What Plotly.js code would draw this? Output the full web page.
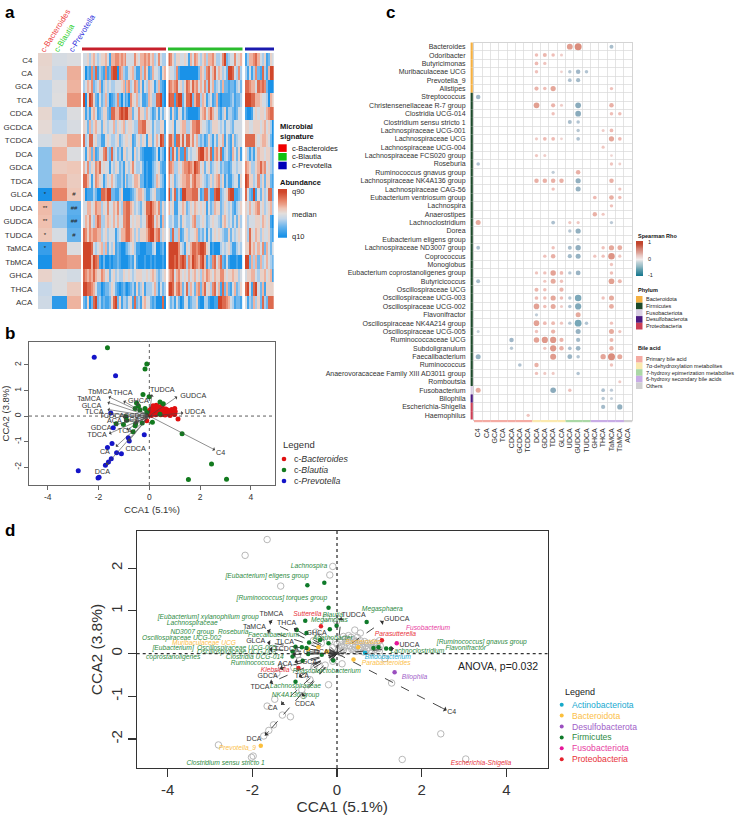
<!DOCTYPE html>
<html><head><meta charset="utf-8">
<script src="https://cdn.plot.ly/plotly-3.0.1.min.js"></script>
<style>html,body{margin:0;padding:0;background:#fff}#chart{width:738px;height:815px}</style>
</head><body><div id="chart"></div>
<script>
const FONT='"Liberation Sans", Arial, sans-serif';
// ---------- Panel a data ----------
const bileRows=['C4','CA','GCA','TCA','CDCA','GCDCA','TCDCA','DCA','GDCA','TDCA','GLCA','UDCA','GUDCA','TUDCA','TaMCA','TbMCA','GHCA','THCA','ACA'];
const signatureCols=['c-Bacteroides','c-Blautia','c-Prevotella'];
const signatureMean=[[.09,-.1,-.05],[.07,-.18,.36],[-.25,-.05,.33],[-.25,-.03,.5],[.07,-.3,-.05],[.04,-.25,-.08],[-.1,.08,.38],[-.45,.33,-.05],[-.45,.16,.2],[-.45,.33,.16],[-1,.6,.2],[.28,-.35,-.65],[.25,-.4,-.7],[.2,-.1,-.6],[-.85,.55,-.05],[-1,.55,.45],[.1,-.05,-.12],[-.2,-.05,.16],[-.15,-.9,.33]];
const signatureMarks=[['','',''],['','',''],['','',''],['','',''],['','',''],['','',''],['','',''],['','',''],['','',''],['','',''],['*','','#'],['**','','##'],['**','','##'],['*','','#'],['*','',''],['','',''],['','',''],['','',''],['','','']];
const bacteroidesSamples=["445356 434556 416677 676744 447546 676756 347433","402172 813217 128990 763224 563116 375126 443156","346572 346135 343344 456267 347625 143654 136210","905985 214236 301237 203120 754634 112653 388910","513156 412355 218866 898996 624475 536431 241424","542635 644254 344635 456345 543377 885542 433551","834884 533114 543345 234554 512453 541552 464982","415626 124478 328342 315534 415342 100001 240320","647354 768454 414354 231543 574334 201002 345211","886414 765413 546432 231523 346652 201002 365320","501113 200887 992211 350000 123566 531134 522110","446645 766354 744657 437788 653432 458897 657253","465743 687335 654646 447788 454553 447998 465163","875767 766345 344413 466788 653535 556899 678354","999984 345636 243512 100123 453110 001113 400120","999969 871020 010112 100001 214100 010010 100010","876768 655764 524534 335445 434555 445456 532345","998876 422012 235421 012101 231523 513334 631423","215028 923121 125892 513324 518231 564421 200080"];
const blautiaSamples=["875355 445416 476435 636675 334792 344745 6","544371 000000 000265 378468 465342 998437 3","876784 535875 867464 738462 342622 122134 2","988189 924889 268836 513412 610111 123122 3","415215 413100 000156 746864 521351 332124 4","445144 566335 778854 432355 543424 432444 4","886188 584885 746323 125314 254614 215234 4","928516 118243 445899 675816 758134 216425 1","876335 467787 698745 245234 542322 124434 4","745234 566775 786654 323535 673513 113441 5","925813 199777 888412 883118 992345 899112 3","645114 465235 465454 514236 552354 342134 5","334224 254334 673345 423454 432564 342425 3","528336 124534 456232 414245 454322 524345 4","999997 431546 887899 854010 003434 531134 3","999897 898376 987689 613278 468214 100010 0","678467 545464 564536 576546 557754 556553 4","998578 624836 426726 845378 461826 214623 5","423142 014412 335100 331001 199887 643122 1"];
const prevotellaSamples=["136678 643512 54","314137 218316 99","887664 878720 00","999886 654430 65","100145 455467 88","554455 545645 30","888885 456654 20","531314 655455 32","765335 686745 32","985534 735255 21","842191 425348 82","546456 745345 63","534445 546545 10","538546 535445 21","558564 647264 24","992636 263464 32","455664 355645 61","894189 426155 55","413263 528328 88"];
// ---------- Panel b / d ordination ----------
const bacteroidesX=[.02,.05,.08,.1,.12,.15,.18,.2,.22,.25,.27,.3,.3,.33,.35,.38,.4,.42,.45,.45,.48,.5,.52,.55,.55,.58,.6,.62,.65,.68,.7,.72,.75,.78,.8,.82,.85,.88,.9,.92,.95,.98,1,1.02,1,0,.15,.06,1.13,-.1];
const bacteroidesY=[.05,.12,.02,.2,.3,.08,.15,.35,.25,.05,.42,.18,.3,.38,.1,.22,.32,.15,.05,.28,.38,.2,.08,.12,.3,.22,.15,.04,.28,.18,.1,.24,.14,.08,.2,.02,.14,.26,.1,.18,.24,.12,.3,.18,.06,.22,.4,.28,-.12,-.18];
const blautiaX=[-1.65,-.1,-.17,-.25,-.01,.42,.55,-.5,-.43,-.56,-.37,-.17,-.1,-.93,-1.31,-1.02,-.89,-.54,-.56,-.64,-.28,.12,.42,1.29,2.45,1.54,3.04];
const blautiaY=[2.67,2.04,1.84,.84,.76,.55,.48,.5,.39,.3,.24,.3,.14,-.03,-.3,-.33,-.16,-.3,-.38,-.61,-.27,-.24,.07,-.69,-1.88,-2.48,-2.47];
const prevotellaX=[-2.17,-1.33,-1.52,-1.42,-.2,-.83,-.79,-1.47,-1.65,-1.29,-1.1,-1.5,-1.61,-1.73,-2.8,-1.98,-2.02];
const prevotellaY=[2.3,1.58,.12,-.46,-.73,-.85,-.98,-1.07,-1.23,-1.44,-1.48,-1.67,-1.8,-1.93,-2.14,-2.4,-2.43];
const arrowNames=['C4','CA','GCA','TCA','CDCA','GCDCA','TCDCA','DCA','GDCA','TDCA','TLCA','GLCA','UDCA','GUDCA','TUDCA','TaMCA','TbMCA','GHCA','THCA','ACA'];
const arrowX=[2.59,-1.32,-.6,-.9,-.83,-.55,-1.05,-1.7,-1.35,-1.59,-1.6,-1.65,1.34,1.1,.1,-1.65,-1.61,-.5,-1.02,-1];
const arrowY=[-1.33,-1.2,-.3,-.55,-1,-.25,-.02,-1.92,-.35,-.69,.1,.26,.12,.76,.85,.54,.76,.5,.59,-.2];
const labelBX=[2.81,-1.75,-.7,-.96,-.54,-.5,-1.48,-1.85,-1.9,-2.06,-2.17,-2.28,1.8,1.73,.51,-2.38,-1.94,-.43,-1.05,-1.38];
const labelBY=[-1.46,-1.4,-.18,-.61,-1.29,.01,.01,-2.21,-.47,-.76,.14,.37,.16,.78,1.02,.67,.95,.59,.89,-.2];
const labelDX=[2.71,-1.52,-.65,-.83,-.76,-.5,-1.19,-1.96,-1.64,-1.82,-1.23,-1.92,1.71,1.41,.39,-1.95,-1.55,-.48,-1.19,-1.23];
const labelDY=[-1.38,-1.27,-.2,-.52,-1.19,.02,.09,-2,-.52,-.8,.27,.3,.2,.81,.89,.61,.92,.48,.7,-.24];
const firmicutesPtsX=[-.7,-.3,-.2,-.75,-.01,-.17,-.95,-.72,-.4,-.2,-.66,-.98,-1.05,-1.05,-.68,-.36,-.81,-.09,-.72,-.83,-.98,.7,.86,.98,1.16,1.27];
const firmicutesPtsY=[1.6,1.66,1.07,.77,.65,.57,.55,.48,.32,.24,.26,.16,.05,-.07,-.01,-.03,-.17,-.16,.13,.15,-.66,.74,.13,.15,.12,.11];
const bacteroidotaPtsX=[.39,.5,-1.8,-.68,-.24,-.44];
const bacteroidotaPtsY=[-.14,.15,-2.16,.1,.05,.15];
const proteoPtsX=[-.38,-.91,1.06];
const proteoPtsY=[.64,-.34,.31];
const fusoPtsX=[1.41],fusoPtsY=[.24],desulfoPtsX=[1.36],desulfoPtsY=[-.44],actinoPtsX=[.66],actinoPtsY=[.02];
const firmicutesNames=['Lachnospira','[Eubacterium] eligens group','[Ruminococcus] torques group','[Eubacterium] xylanophilum group','Lachnospiraceae<br>ND3007 group','Blautia','Megamonas','Roseburia','Faecalibacterium','Oscillospiraceae UCG-002','[Eubacterium]<br>coprostanoligenes','Oscillospiraceae UCG-005','Oscillospiraceae UCG-003','Clostridia UCG-014','Ruminococcus','Phascolarctobacterium','Agathobacter','Lachnospiraceae<br>NK4A136 group','Clostridium sensu stricto 1','Megasphaera','[Ruminococcus] gnavus group','Flavonifractor','Lachnoclostridium'];
const firmicutesNameX=[-.66,-1.65,-1.3,-3.04,-3.42,-.1,-.18,-2.45,-1.5,-3.67,-3.87,-2.37,-2.37,-1.94,-1.99,-.24,-.1,-.98,-2.63,1.07,3.42,3.04,1.9];
const firmicutesNameY=[2.05,1.8,1.29,.84,.6,.9,.77,.49,.42,.35,.01,.13,.03,-.09,-.22,-.41,.36,-.87,-2.56,1.04,.27,.13,.06];
const otherNames=['Sutterella','Klebsiella','Parasutterella','Escherichia-Shigella','Muribaculaceae UCG','Prevotella_9','Bacteroides','Parabacteroides','Fusobacterium','Bifidobacterium','Bilophila'];
const otherNameX=[-.7,-1.46,1.38,3.4,-3.14,-2.35,.62,1.16,2.15,1.2,1.83];
const otherNameY=[.91,-.39,.45,-2.58,.23,-2.22,.26,-.23,.58,-.09,-.55];
const otherNamePhylum=['Proteobacteria','Proteobacteria','Proteobacteria','Proteobacteria','Bacteroidota','Bacteroidota','Bacteroidota','Bacteroidota','Fusobacteriota','Actinobacteriota','Desulfobacterota'];
const phylumNames=['Actinobacteriota','Bacteroidota','Desulfobacterota','Firmicutes','Fusobacteriota','Proteobacteria'];
const phylumColors=['#17A9C9','#FBBF3C','#9A4FBF','#0F7A2A','#E6169A','#E5222C'];
const phylumTextColors=['#18A9D0','#FBC04A','#A060C8','#2E8B3F','#E8409F','#E8323A'];
// ---------- Panel c data ----------
const taxa=['Bacteroides','Odoribacter','Butyricimonas','Muribaculaceae UCG','Prevotella_9','Alistipes','Streptococcus','Christensenellaceae R-7 group','Clostridia UCG-014','Clostridium sensu stricto 1','Lachnospiraceae UCG-001','Lachnospiraceae UCG','Lachnospiraceae UCG-004','Lachnospiraceae FCS020 group','Roseburia','Ruminococcus gnavus group','Lachnospiraceae NK4A136 group','Lachnospiraceae CAG-56','Eubacterium ventriosum group','Lachnospira','Anaerostipes','Lachnoclostridium','Dorea','Eubacterium eligens group','Lachnospiraceae ND3007 group','Coprococcus','Monoglobus','Eubacterium coprostanoligenes group','Butyricicoccus','Oscillospiraceae UCG','Oscillospiraceae UCG-003','Oscillospiraceae UCG-002','Flavonifractor','Oscillospiraceae NK4A214 group','Oscillospiraceae UCG-005','Ruminococcaceae UCG','Subdoligranulum','Faecalibacterium','Ruminococcus','Anaerovoracaceae Family XIII AD3011 group','Romboutsia','Fusobacterium','Bilophila','Escherichia-Shigella','Haemophilus'];
const acidCols=['C4','CA','GCA','TCA','CDCA','GCDCA','TCDCA','DCA','GDCA','TDCA','GLCA','UDCA','GUDCA','TUDCA','GHCA','THCA','TaMCA','TbMCA','ACA'];
const rho=[
[[11,.38],[12,.5],[16,-.2]],
[[7,.15],[8,.2],[9,.15],[10,.1]],
[[7,.17],[8,.13]],
[[7,.14],[10,.08],[11,-.14],[12,-.25],[13,-.15]],
[[11,-.17],[12,-.22]],
[[7,.22],[8,.15],[9,.32],[16,.14]],
[[0,-.25]],
[[7,.37],[9,.22],[10,.1],[12,-.37],[16,.25]],
[[9,.14],[12,-.37],[16,.15],[17,.15]],
[[11,-.2],[12,-.15]],
[[12,-.14],[15,.1],[16,.17]],
[[7,.11],[8,.17],[9,.17],[10,.08],[12,-.17],[16,.32],[17,.17]],
[[15,.12]],
[[7,.12],[8,.1],[16,.07]],
[[0,-.16],[16,.13],[17,.09]],
[[9,-.12],[12,.25]],
[[7,.25],[8,.25],[9,.25],[10,.25],[12,-.32],[16,.25]],
[[9,.14],[12,-.3],[17,.13]],
[[14,.17],[16,.27],[17,.15]],
[[16,.14]],
[[14,.24],[15,.12]],
[[0,.3],[9,-.18],[11,.12],[12,.12],[16,-.13]],
[[11,-.14],[12,-.32]],
[[12,-.08]],
[[0,-.18],[9,.14],[11,-.2],[12,-.33],[15,.14],[16,.32],[17,.28]],
[[8,.14],[9,.25],[11,-.22],[12,-.3],[14,.13],[15,.14],[16,.45],[17,.12]],
[[16,.13]],
[[7,.13],[8,.14],[9,.35],[10,.17],[11,-.14],[12,-.28],[16,.15]],
[[0,-.2],[8,.12],[9,.3],[10,.14],[16,.37],[17,.2]],
[[7,.2],[8,.15],[10,.22]],
[[7,.17],[8,.15],[9,.32],[10,.16],[11,-.14],[12,-.45],[15,.14],[16,.3]],
[[7,.36],[8,.15],[9,.3],[10,.1],[11,-.15],[12,-.42],[16,.28]],
[[7,-.12],[12,.3]],
[[7,.36],[8,.17],[9,.18],[10,.13],[11,-.14],[12,-.48],[13,-.15],[16,.14]],
[[0,-.1],[7,.14],[9,.23],[12,-.3],[16,.3],[17,.13]],
[[4,-.25],[7,.35],[8,.42],[9,.42],[10,.22],[12,-.22],[16,.2]],
[[4,-.14],[8,.13],[9,.42],[10,.25],[11,-.17],[12,-.27],[16,.24]],
[[0,-.3],[9,.4],[11,-.28],[12,-.15],[15,.33],[16,.5],[17,.3]],
[[5,-.16],[7,.24],[16,.14]],
[[7,.14],[8,.11],[9,.11],[12,-.15]],
[[17,.11]],
[[0,.3],[9,-.36],[11,.14],[15,-.17],[16,-.13]],
[[15,-.14],[16,-.1]],
[[15,-.22],[17,-.32]],
[[6,.13]]];
const phylaStrip=[0,0,0,0,0,0,1,1,1,1,1,1,1,1,1,1,1,1,1,1,1,1,1,1,1,1,1,1,1,1,1,1,1,1,1,1,1,1,1,1,1,2,3,4,4];
const phylaStripColors=['#F5B041','#1C4A2A','#D9CFE3','#4B1A80','#CB3F55'];
const acidStrip=[0,0,0,0,0,0,0,1,1,1,1,2,2,2,3,3,3,3,4];
const acidStripColors=['#F4ABA3','#FBE9AE','#ABD8A6','#C8ACE6','#D0D0D0'];
const phylumLegend=['Bacteroidota','Firmicutes','Fusobacteriota','Desulfobacterota','Proteobacteria'];
const acidLegend=['Primary bile acid','7α-dehydroxylation metabolites','7-hydroxy epimerization metabolites','6-hydroxy secondary bile acids','Others'];
const rampLevels=[9,8,7,6,5,4,3,2,1,0];

// ---------- helpers ----------
const W=738,H=815;
const X=x=>x/W, Y=y=>1-y/H;
const ROWS=bileRows.length;
const scaleAb=[[0,'#1A92E8'],[.2,'#66B3EC'],[.38,'#C2D6EA'],[.5,'#E2DEDC'],[.62,'#F0C2B1'],[.8,'#E8866A'],[1,'#D0462A']];
const scaleRho=[[0,'#1F7C93'],[.2,'#5A879F'],[.37,'#8FA9BE'],[.5,'#E8E0E0'],[.63,'#E8A096'],[.75,'#DC8674'],[1,'#C2452D']];
const layout={width:W,height:H,margin:{l:0,r:0,t:0,b:0},paper_bgcolor:'#fff',plot_bgcolor:'rgba(0,0,0,0)',showlegend:false,hovermode:false,font:{family:FONT,color:'#333'},annotations:[],shapes:[]};
const data=[];
function axes(n,x0,x1,y0,y1,xa,ya){
  const s=n===1?'':n;
  layout['xaxis'+s]=Object.assign({domain:[X(x0),X(x1)],anchor:'y'+s,showgrid:false,zeroline:false,showticklabels:false,ticks:''},xa);
  layout['yaxis'+s]=Object.assign({domain:[Y(y1),Y(y0)],anchor:'x'+s,showgrid:false,zeroline:false,showticklabels:false,ticks:''},ya);
  return {xaxis:'x'+s,yaxis:'y'+s};
}
function note(x,y,text,o){layout.annotations.push(Object.assign({xref:'paper',yref:'paper',x:X(x),y:Y(y),text,showarrow:false,xanchor:'left',yanchor:'middle',font:{size:7.5,color:'#222',family:FONT}},o||{}));}
function rect(x0,y0,x1,y1,c){layout.shapes.push({type:'rect',xref:'paper',yref:'paper',x0:X(x0),x1:X(x1),y0:Y(y0),y1:Y(y1),fillcolor:c,line:{width:0}});}
const digits=s=>s.replace(/ /g,'').split('').map(Number);
const rowRange=[ROWS-.5,-.5];

// ---------- Panel a ----------
const a0=axes(1,38,81,53,309,{range:[-.5,2.5]},{range:rowRange,showticklabels:true,tickvals:bileRows.map((_,i)=>i),ticktext:bileRows,tickfont:{size:8,color:'#333'},ticks:'outside',ticklen:3,tickcolor:'rgba(0,0,0,0)'});
data.push(Object.assign({type:'heatmap',z:signatureMean,text:signatureMarks,texttemplate:'%{text}',textfont:{size:6,color:'#222'},zmin:-1,zmax:1,colorscale:scaleAb,showscale:false},a0));
[[2,83,166,bacteroidesSamples],[3,168.3,242.5,blautiaSamples],[4,245,273.7,prevotellaSamples]].forEach(([n,x0,x1,rows])=>{
  const z=rows.map(digits);
  const ax=axes(n,x0,x1,53,309,{range:[-.5,z[0].length-.5]},{range:rowRange});
  data.push(Object.assign({type:'heatmap',z,zmin:0,zmax:9,colorscale:scaleAb,showscale:false},ax));
});
rect(82,47.5,166,50.5,'#C6202B');rect(168,47.5,242.5,50.5,'#2ABC2E');rect(245,47.5,274,50.5,'#1A1AAE');
note(55,31,'c-Bacteroides',{textangle:-58,xanchor:'center',font:{size:8,color:'#EE3B3B',family:FONT}});
note(65,38,'c-Blautia',{textangle:-58,xanchor:'center',font:{size:8,color:'#2FD02F',family:FONT}});
note(82,33.5,'c-Prevotella',{textangle:-58,xanchor:'center',font:{size:8,color:'#2E2EDC',family:FONT}});
note(278,132,'<b>Microbial<br>signature</b>',{font:{size:7.5,color:'#111',family:FONT},align:'left'});
[['#F00000',144.3,148],['#10C010',153,156.7],['#0000B8',161.7,165.5]].forEach(([c,y,ty],i)=>{rect(278.3,y,286.7,y+7.6,c);note(290,ty,signatureCols[i],{font:{size:7.5,color:'#222',family:FONT}});});
note(278,182.7,'<b>Abundance</b>',{font:{size:7.5,color:'#111',family:FONT}});
const ramp1=axes(10,278,287,189,237.7,{range:[-.5,.5]},{range:[rampLevels.length-.5,-.5]});
data.push(Object.assign({type:'heatmap',z:rampLevels.map(v=>[v]),zmin:0,zmax:9,colorscale:scaleAb,showscale:false,zsmooth:'best'},ramp1));
note(290,191.7,'q90');note(290,214,'median');note(290,236,'q10');

// ---------- Ordination helper ----------
function ordination(n,x0,x1,y0,y1,opts){
  const tickx={tickmode:'array',tickvals:[-4,-2,0,2,4],ticktext:['-4','-2','0','2','4']};
  const ticky={tickmode:'array',tickvals:[-2,-1,0,1,2],ticktext:['-2','-1','0','1','2']};
  const s=n;
  const common={showline:true,mirror:true,linecolor:opts.frame,linewidth:opts.lw,ticks:'outside',ticklen:opts.tl,tickwidth:opts.lw,tickcolor:opts.frame,showticklabels:true,tickfont:{size:opts.tick,color:'#333'}};
  const ax=axes(n,x0,x1,y0,y1,
    Object.assign({range:opts.xr,title:{text:'CCA1 (5.1%)',font:{size:opts.title,color:'#333'},standoff:opts.sox}},common,tickx),
    Object.assign({range:opts.yr,tickangle:-90,title:{text:'CCA2 (3.8%)',font:{size:opts.title,color:'#333'},standoff:opts.soy}},common,ticky));
  layout.shapes.push({type:'line',xref:'x'+s,yref:'y'+s,x0:0,x1:0,y0:opts.yr[0],y1:opts.yr[1],line:{color:'#333',width:opts.zw,dash:'dot'}});
  layout.shapes.push({type:'line',xref:'x'+s,yref:'y'+s,x0:opts.xr[0],x1:opts.xr[1],y0:0,y1:0,line:{color:'#333',width:opts.zw,dash:'dot'}});
  return ax;
}
function arrowHead(s,tx,ty,fx,fy,col,w){layout.annotations.push({xref:'x'+s,yref:'y'+s,axref:'x'+s,ayref:'y'+s,x:tx,y:ty,ax:fx,ay:fy,text:'',showarrow:true,arrowhead:1,arrowsize:1.2,arrowwidth:w,arrowcolor:col});}

// ---------- Panel b ----------
const bAx=ordination(5,29,275,342,485,{xr:[-4.74,4.95],yr:[-2.7,2.9],frame:'#666',lw:1,tl:4,tick:8.5,title:9.5,sox:5,soy:6,zw:.8});
[[bacteroidesX,bacteroidesY,'#E01010'],[blautiaX,blautiaY,'#127A1E'],[prevotellaX,prevotellaY,'#1414C8']].forEach(([x,y,c])=>{
  data.push(Object.assign({type:'scatter',mode:'markers',x,y,marker:{size:5,color:c}},bAx));
});
arrowNames.forEach((_,i)=>arrowHead(5,arrowX[i],arrowY[i],0,0,'#444',.6));
data.push(Object.assign({type:'scatter',mode:'text',x:labelBX,y:labelBY,text:arrowNames,textfont:{size:7.2,color:'#333'}},bAx));
note(281,445,'Legend',{font:{size:9.5,color:'#333',family:FONT}});
[['Bacteroides','#E01010',459],['Blautia','#127A1E',470],['Prevotella','#1414C8',481]].forEach(([t,c,y])=>{
  layout.shapes.push({type:'circle',xref:'paper',yref:'paper',x0:X(281.7),x1:X(286.3),y0:Y(y+2.3),y1:Y(y-2.3),fillcolor:c,line:{width:0}});
  note(292,y,'c-<i>'+t+'</i>',{font:{size:8.8,color:'#333',family:FONT}});
});

// ---------- Panel c ----------
const cAx=axes(6,474,632.3,42.5,419.5,
 {range:[-.5,18.5],showticklabels:true,tickmode:'array',tickvals:acidCols.map((_,i)=>i),ticktext:acidCols,tickangle:-90,tickfont:{size:7,color:'#333'},ticks:'outside',ticklen:5,tickcolor:'rgba(0,0,0,0)',showline:true,mirror:true,linecolor:'#D4D4D4',linewidth:1,minor:{tickmode:'array',tickvals:acidCols.map((_,i)=>i+.5),showgrid:true,gridcolor:'#D8D8D8',gridwidth:.7,ticks:''}},
 {range:[44.5,-.5],showticklabels:true,tickmode:'array',tickvals:taxa.map((_,i)=>i),ticktext:taxa,tickfont:{size:7,color:'#333'},ticks:'outside',ticklen:6,tickcolor:'rgba(0,0,0,0)',showline:true,mirror:true,linecolor:'#D4D4D4',linewidth:1,minor:{tickmode:'array',tickvals:taxa.map((_,i)=>i+.5),showgrid:true,gridcolor:'#D8D8D8',gridwidth:.7,ticks:''}});
const bx=[],by=[],bv=[];
rho.forEach((r,i)=>r.forEach(([c,v])=>{bx.push(c);by.push(i);bv.push(v);}));
data.push(Object.assign({type:'scatter',mode:'markers',x:bx,y:by,marker:{size:bv.map(v=>2+10*Math.abs(v)),color:bv,cmin:-.6,cmax:.6,colorscale:scaleRho,line:{width:0}}},cAx));
// phylum strip (left) and bile-acid strip (bottom)
const rowH=(419.5-42.5)/taxa.length, colW=(632.3-474)/acidCols.length;
phylaStrip.forEach((k,i)=>rect(470.6,42.5+i*rowH,472.8,42.5+(i+1)*rowH,phylaStripColors[k]));
acidStrip.forEach((k,i)=>rect(474+i*colW,420,474+(i+1)*colW,422.2,acidStripColors[k]));
note(636,236,'<b>Spearman Rho</b>',{font:{size:5.5,color:'#111',family:FONT}});
const ramp2=axes(11,636,643,241,276,{range:[-.5,.5]},{range:[rampLevels.length-.5,-.5]});
data.push(Object.assign({type:'heatmap',z:rampLevels.map(v=>[v]),zmin:0,zmax:9,colorscale:[[0,'#1B7A90'],[.5,'#F2ECEC'],[1,'#C2452D']],showscale:false,zsmooth:'best'},ramp2));
note(645.5,242,'1',{font:{size:5.5,color:'#222',family:FONT}});note(645.5,259,'0',{font:{size:5.5,color:'#222',family:FONT}});note(645.5,275,'-1',{font:{size:5.5,color:'#222',family:FONT}});
note(636,290,'<b>Phylum</b>',{font:{size:5.5,color:'#111',family:FONT}});
phylumLegend.forEach((t,i)=>{rect(636,296+i*6.7,642.5,296+(i+1)*6.7,phylaStripColors[i]);note(644,299.4+i*6.7,t,{font:{size:5.5,color:'#222',family:FONT}});});
note(636,348,'<b>Bile acid</b>',{font:{size:5.5,color:'#111',family:FONT}});
acidLegend.forEach((t,i)=>{rect(636,356+i*6.6,642.5,356+(i+1)*6.6,acidStripColors[i]);note(644,359.3+i*6.6,t,{font:{size:5.5,color:'#222',family:FONT}});});

// ---------- Panel d ----------
const dAx=ordination(9,136.7,547.7,531,768,{xr:[-4.73,4.975],yr:[-2.68,2.87],frame:'#333',lw:1.2,tl:8,tick:15,title:15.5,sox:6,soy:1,zw:1.3});
data.push(Object.assign({type:'scatter',mode:'markers',x:[...bacteroidesX,...blautiaX,...prevotellaX],y:[...bacteroidesY,...blautiaY,...prevotellaY],marker:{symbol:'circle-open',size:6.5,color:'#B8B8B8',line:{width:1,color:'#B8B8B8'}}},dAx));
const sx=[],sy=[];arrowNames.forEach((_,i)=>{sx.push(0,arrowX[i],null);sy.push(0,arrowY[i],null);});
data.push(Object.assign({type:'scatter',mode:'lines',x:sx,y:sy,line:{color:'#333',width:.9,dash:'dash'}},dAx));
arrowNames.forEach((_,i)=>arrowHead(9,arrowX[i],arrowY[i],arrowX[i]*.93,arrowY[i]*.93,'#333',.8));
[[actinoPtsX,actinoPtsY,0],[bacteroidotaPtsX,bacteroidotaPtsY,1],[desulfoPtsX,desulfoPtsY,2],[firmicutesPtsX,firmicutesPtsY,3],[fusoPtsX,fusoPtsY,4],[proteoPtsX,proteoPtsY,5]].forEach(([x,y,k])=>{
  data.push(Object.assign({type:'scatter',mode:'markers',x,y,marker:{size:4.5,color:phylumColors[k]}},dAx));
});
data.push(Object.assign({type:'scatter',mode:'text',x:labelDX,y:labelDY,text:arrowNames,textfont:{size:7,color:'#333'}},dAx));
data.push(Object.assign({type:'scatter',mode:'text',x:firmicutesNameX,y:firmicutesNameY,text:firmicutesNames,textfont:{size:6.7,color:phylumTextColors[3],style:'italic'}},dAx));
data.push(Object.assign({type:'scatter',mode:'text',x:otherNameX,y:otherNameY,text:otherNames,textfont:{size:6.7,color:otherNamePhylum.map(p=>phylumTextColors[phylumNames.indexOf(p)]),style:'italic'}},dAx));
note(498.3,665.7,'ANOVA, p=0.032',{xanchor:'center',font:{size:10.5,color:'#222',family:FONT}});
note(563,692,'Legend',{font:{size:9,color:'#222',family:FONT}});
phylumNames.forEach((t,i)=>{const y=704.7+i*10.9;
  layout.shapes.push({type:'circle',xref:'paper',yref:'paper',x0:X(559.7),x1:X(563.7),y0:Y(y+2),y1:Y(y-2),fillcolor:phylumColors[i],line:{width:0}});
  note(570,y,t,{font:{size:8.6,color:phylumTextColors[i],family:FONT}});
});

// ---------- Panel letters ----------
[['a',3,12],['b',3,333],['c',384,12],['d',3,530]].forEach(([t,x,y])=>note(x,y,'<b>'+t+'</b>',{font:{size:17,color:'#000',family:FONT}}));

Plotly.newPlot('chart',data,layout,{staticPlot:true,displayModeBar:false});
</script></body></html>
